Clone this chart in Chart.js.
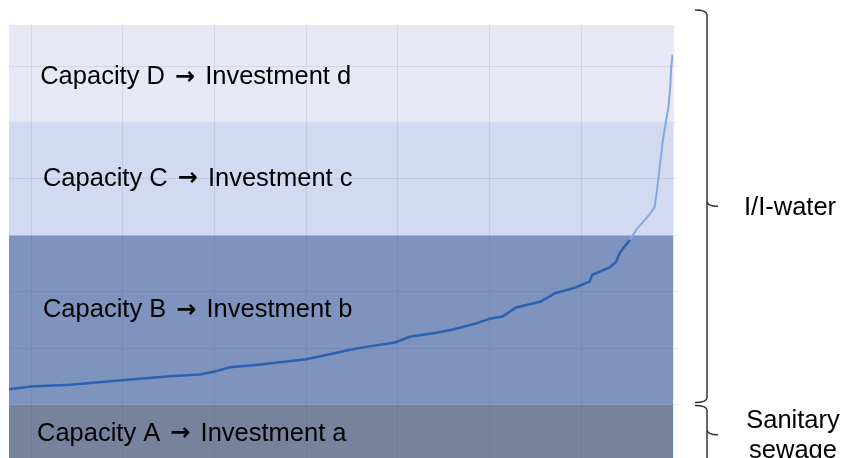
<!DOCTYPE html>
<html>
<head>
<meta charset="utf-8">
<script src="https://cdn.jsdelivr.net/npm/chart.js@4"></script>
<style>
  html, body { margin: 0; padding: 0; background: #fff; overflow: hidden; }
  #wrap { width: 842px; height: 458px; }
</style>
</head>
<body>
<div id="wrap"><canvas id="grafico" width="842" height="458"></canvas></div>
<script>
// curva de duração (vazão ordenada)
const curveX = [-0.24, 0, 0.43, 0.99, 1.51, 1.84, 1.99, 2.17, 2.5, 3.0, 3.26, 3.48, 3.69, 3.97, 4.13, 4.42, 4.6, 4.84, 5.0, 5.14, 5.29, 5.55, 5.71, 5.93, 6.09, 6.12, 6.31, 6.38, 6.42, 6.53, 6.6, 6.69, 6.74, 6.8, 6.83, 6.86, 6.89, 6.92, 6.95, 6.97, 6.98, 6.994];
const curveY = [0.27, 0.32, 0.35, 0.43, 0.5, 0.53, 0.58, 0.66, 0.71, 0.8, 0.89, 0.97, 1.03, 1.1, 1.2, 1.27, 1.33, 1.43, 1.52, 1.56, 1.72, 1.82, 1.97, 2.07, 2.18, 2.3, 2.43, 2.53, 2.69, 2.92, 3.1, 3.27, 3.36, 3.5, 3.86, 4.28, 4.69, 4.99, 5.27, 5.63, 5.98, 6.2];

const xTicks = [0, 1, 2, 3, 4, 5, 6, 7];
const yTicks = [0, 1, 2, 3, 4, 5, 6];

// faixas de capacidade
const bandLow = [-0.95, 0, 3, 5];
const bandHigh = [0, 3, 5, 6.73];
const bandCapacity = ['Capacity A', 'Capacity B', 'Capacity C', 'Capacity D'];
const bandInvest = ['Investment a', 'Investment b', 'Investment c', 'Investment d'];
const labelX = [0.065, 0.13, 0.13, 0.1];
const labelY = [-0.52, 1.67, 4.0, 5.8];

const bandColors = ['#77839c', '#7f93bf', '#d1daf0', '#e6e9f5'];

const pluginFaixas = {
  id: 'faixas',
  beforeDraw(chart) {
    const { ctx, chartArea, scales } = chart;
    ctx.save();
    for (let i = 0; i < bandLow.length; i++) {
      const y1 = scales.y.getPixelForValue(bandHigh[i]);
      const y2 = scales.y.getPixelForValue(bandLow[i]);
      ctx.fillStyle = bandColors[i];
      ctx.fillRect(chartArea.left, y1, chartArea.right - chartArea.left, y2 - y1);
    }
    ctx.restore();
  },
  afterDraw(chart) {
    const { ctx, chartArea, scales } = chart;
    const fonteTexto = '25.5px "Liberation Sans", Arial, sans-serif';
    const fonteSeta = 'bold 24px "DejaVu Sans", sans-serif';
    ctx.save();
    ctx.fillStyle = '#000';
    ctx.textBaseline = 'middle';
    ctx.textAlign = 'left';
    for (let i = 0; i < bandCapacity.length; i++) {
      let x = scales.x.getPixelForValue(labelX[i]);
      const y = scales.y.getPixelForValue(labelY[i]);
      ctx.font = fonteTexto;
      const p1 = bandCapacity[i] + ' ';
      ctx.fillText(p1, x, y);
      x += ctx.measureText(p1).width + 3;
      ctx.font = fonteSeta;
      ctx.fillText('\u2192', x, y);
      x += ctx.measureText('\u2192').width + 3;
      ctx.font = fonteTexto;
      ctx.fillText(' ' + bandInvest[i], x, y);
    }

    // chaves à direita
    const xl = chartArea.right + 22, xm = chartArea.right + 34, xr = chartArea.right + 45;
    const brace = (top, bot) => {
      const mid = (top + bot) / 2, r = 5;
      ctx.beginPath();
      ctx.moveTo(xl, top);
      ctx.quadraticCurveTo(xm, top, xm, top + r);
      ctx.lineTo(xm, mid - r);
      ctx.quadraticCurveTo(xm, mid, xr, mid);
      ctx.moveTo(xm, mid - r);
      ctx.quadraticCurveTo(xm, mid, xm, mid + r);
      ctx.lineTo(xm, bot - r);
      ctx.quadraticCurveTo(xm, bot, xl, bot);
      ctx.stroke();
      return mid;
    };
    ctx.strokeStyle = '#333';
    ctx.lineWidth = 1.5;
    const y0 = scales.y.getPixelForValue(0);
    const m1 = brace(chartArea.top - 15, y0 - 2);
    const m2 = brace(y0 + 1, scales.y.getPixelForValue(bandLow[0]) + 6);

    ctx.font = fonteTexto;
    ctx.textAlign = 'left';
    ctx.fillText('I/I-water', xr + 26, m1 + 2);
    ctx.textAlign = 'center';
    ctx.fillText('Sanitary', 793, m2 - 14);
    ctx.fillText('sewage', 793, m2 + 16);
    ctx.restore();
  }
};

const ctx = document.getElementById('grafico');
new Chart(ctx, {
  type: 'line',
  data: {
    datasets: [{
      data: curveX.map((x, i) => ({ x: x, y: curveY[i] })),
      borderColor: '#2a62b2',
      borderWidth: 2.5,
      pointRadius: 0,
      tension: 0,
      segment: {
        borderColor: c => (c.p0.parsed.y >= 3 || c.p1.parsed.y > 3.05) ? '#86a8de' : '#2a62b2',
        borderWidth: c => (c.p0.parsed.y >= 3 || c.p1.parsed.y > 3.05) ? 2 : 2.5
      }
    }]
  },
  options: {
    responsive: false,
    animation: false,
    layout: { padding: { left: 9, top: 25, right: 164, bottom: 0 } },
    plugins: { legend: { display: false }, tooltip: { enabled: false } },
    scales: {
      x: {
        type: 'linear',
        min: -0.24,
        max: 7,
        afterBuildTicks: s => { s.ticks = xTicks.map(v => ({ value: v })); },
        ticks: { display: false },
        grid: { color: 'rgba(70,85,120,0.12)', drawTicks: false },
        border: { display: false }
      },
      y: {
        position: 'right',
        min: -0.95,
        max: 6.73,
        afterBuildTicks: s => { s.ticks = yTicks.map(v => ({ value: v })); },
        ticks: { display: false },
        grid: { color: 'rgba(70,85,120,0.12)', drawTicks: true, tickLength: 5 },
        border: { display: false }
      }
    }
  },
  plugins: [pluginFaixas]
});
</script>
</body>
</html>
